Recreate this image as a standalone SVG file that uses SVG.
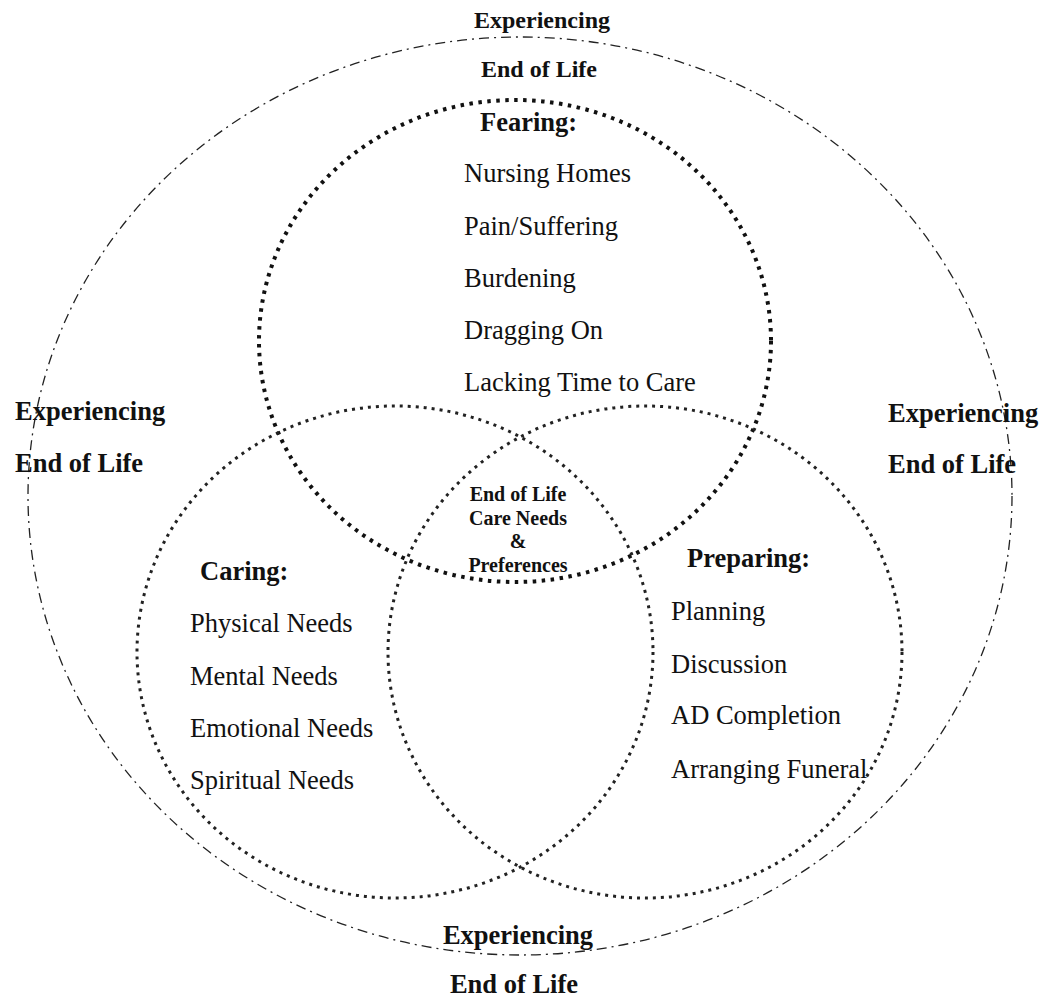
<svg xmlns="http://www.w3.org/2000/svg" width="1045" height="1000" viewBox="0 0 1045 1000">
<style>
.bg{fill:#ffffff}
.outer{fill:none;stroke:#222;stroke-width:1.3;stroke-dasharray:10 5 2 5}
.fear{fill:none;stroke:#111;stroke-width:4;stroke-dasharray:3.5 5.5}
.set{fill:none;stroke:#222;stroke-width:3;stroke-dasharray:3 5}
text{font-family:"Liberation Serif","Times New Roman",serif;fill:#111}
.lab{font-size:26.5px;font-weight:bold}
.top{font-size:24px;font-weight:bold}
.item{font-size:26.5px}
.ctr{font-size:20px;font-weight:bold;text-anchor:middle}
</style>
<rect class="bg" x="0" y="0" width="1045" height="1000"/>
<g id="experiencing-end-of-life">
<ellipse class="outer" cx="520" cy="496" rx="492" ry="459"/>
<text class="top" x="542" y="28" text-anchor="middle">Experiencing</text>
<text class="top" x="539" y="77" text-anchor="middle">End of Life</text>
<text class="lab" x="15" y="420">Experiencing</text>
<text class="lab" x="15" y="472">End of Life</text>
<text class="lab" x="888" y="422">Experiencing</text>
<text class="lab" x="888" y="473">End of Life</text>
<text class="lab" x="518" y="944" text-anchor="middle">Experiencing</text>
<text class="lab" x="514" y="993" text-anchor="middle">End of Life</text>
</g>
<g id="fearing">
<ellipse class="fear" cx="515" cy="341" rx="256" ry="241"/>
<text class="lab" x="480" y="131">Fearing:</text>
<text class="item" x="464" y="182">Nursing Homes</text>
<text class="item" x="464" y="235">Pain/Suffering</text>
<text class="item" x="464" y="287">Burdening</text>
<text class="item" x="464" y="339">Dragging On</text>
<text class="item" x="464" y="391">Lacking Time to Care</text>
</g>
<g id="caring">
<ellipse class="set" cx="395" cy="652" rx="258" ry="246"/>
<text class="lab" x="200" y="580">Caring:</text>
<text class="item" x="190" y="632">Physical Needs</text>
<text class="item" x="190" y="685">Mental Needs</text>
<text class="item" x="190" y="737">Emotional Needs</text>
<text class="item" x="190" y="789">Spiritual Needs</text>
</g>
<g id="preparing">
<ellipse class="set" cx="645" cy="652" rx="257" ry="246"/>
<text class="lab" x="687" y="567">Preparing:</text>
<text class="item" x="671" y="620">Planning</text>
<text class="item" x="671" y="673">Discussion</text>
<text class="item" x="671" y="724">AD Completion</text>
<text class="item" x="671" y="778">Arranging Funeral</text>
</g>
<g id="center">
<text class="ctr" x="518" y="501">End of Life</text>
<text class="ctr" x="518" y="524.5">Care Needs</text>
<text class="ctr" x="518" y="548">&amp;</text>
<text class="ctr" x="518" y="571.5">Preferences</text>
</g>
</svg>
